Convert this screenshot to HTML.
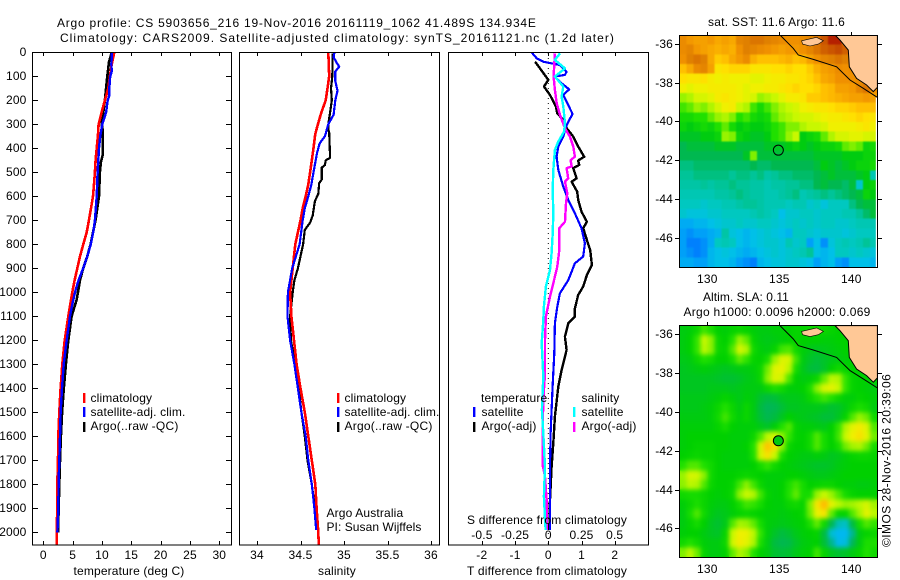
<!DOCTYPE html>
<html lang="en">
<head>
<meta charset="utf-8">
<title>Argo profile chart</title>
<style>
html,body{margin:0;padding:0;background:#fff;}
svg{display:block;}
text{font-family:"Liberation Sans",sans-serif;font-size:12px;fill:#000;letter-spacing:0.15px;}
.mid{text-anchor:middle;}
.end{text-anchor:end;}
.line{fill:none;stroke-linejoin:round;shape-rendering:crispEdges;}
.frame{fill:none;stroke:#000;stroke-width:1.2;shape-rendering:crispEdges;}
</style>
</head>
<body>
<svg id="chart" width="900" height="580" viewBox="0 0 900 580" xmlns="http://www.w3.org/2000/svg">
  <defs>
    <clipPath id="clip-sst"><rect x="679.3" y="35" width="198" height="232"/></clipPath>
    <clipPath id="clip-sla"><rect x="679.3" y="325.3" width="198" height="232"/></clipPath>
    <filter id="soft-sst" filterUnits="userSpaceOnUse" x="660" y="20" width="240" height="260" color-interpolation-filters="sRGB">
      <feGaussianBlur in="SourceGraphic" stdDeviation="0.8" result="b"/>
      <feMerge><feMergeNode in="SourceGraphic"/><feMergeNode in="b"/></feMerge>
    </filter>
    <filter id="soft-sla" filterUnits="userSpaceOnUse" x="660" y="310" width="240" height="260" color-interpolation-filters="sRGB">
      <feGaussianBlur in="SourceGraphic" stdDeviation="2.5" result="b"/>
      <feMerge><feMergeNode in="SourceGraphic"/><feMergeNode in="b"/></feMerge>
    </filter>
  </defs>
  <rect x="0" y="0" width="900" height="580" fill="#fff"/>

  <text x="57" y="27" textLength="479" lengthAdjust="spacing">Argo profile: CS 5903656_216 19-Nov-2016 20161119_1062 41.489S 134.934E</text>
  <text x="60" y="42" textLength="554" lengthAdjust="spacing">Climatology: CARS2009. Satellite-adjusted climatology: synTS_20161121.nc (1.2d later)</text>

  <g id="temp-panel"></g>
  <g id="sal-panel"></g>
  <g id="diff-panel"></g>

  <rect class="frame" x="32.5" y="52.5" width="199" height="492.5"/>
  <rect class="frame" x="239.5" y="52.5" width="200" height="492.5"/>
  <rect class="frame" x="448.5" y="52.5" width="200" height="492.5"/>

  <text class="mid" x="129" y="575">temperature (deg C)</text>
  <text class="mid" x="337" y="575">salinity</text>
  <text class="mid" x="547" y="575" textLength="160">T difference from climatology</text>
  <text class="mid" x="547" y="524" textLength="160">S difference from climatology</text>

  <g>
    <rect x="83" y="393" width="2.4" height="10" fill="#ff0000"/>
    <text x="90.5" y="402">climatology</text>
    <rect x="83" y="407" width="2.4" height="10" fill="#0000ff"/>
    <text x="90.5" y="416" textLength="95">satellite-adj. clim.</text>
    <rect x="83" y="422" width="2.4" height="10" fill="#000"/>
    <text x="90.5" y="430" textLength="88">Argo(..raw -QC)</text>
  </g>
  <g>
    <rect x="337" y="393" width="2.4" height="10" fill="#ff0000"/>
    <text x="344.5" y="402">climatology</text>
    <rect x="337" y="407" width="2.4" height="10" fill="#0000ff"/>
    <text x="344.5" y="416" textLength="95">satellite-adj. clim.</text>
    <rect x="337" y="422" width="2.4" height="10" fill="#000"/>
    <text x="344.5" y="430" textLength="88">Argo(..raw -QC)</text>
  </g>
  <text x="326.5" y="517">Argo Australia</text>
  <text x="326.5" y="531" textLength="95">PI: Susan Wijffels</text>

  <g>
    <text x="481" y="402">temperature</text>
    <text x="581.5" y="402">salinity</text>
    <rect x="473" y="407" width="2.4" height="10" fill="#0000ff"/>
    <text x="481.5" y="416">satellite</text>
    <rect x="473" y="422" width="2.4" height="10" fill="#000"/>
    <text x="481.5" y="430" textLength="55">Argo(-adj)</text>
    <rect x="573" y="407" width="2.4" height="10" fill="#00ffff"/>
    <text x="581.5" y="416">satellite</text>
    <rect x="573" y="422" width="2.4" height="10" fill="#ff00ff"/>
    <text x="581.5" y="430" textLength="55">Argo(-adj)</text>
  </g>

  <text class="mid" x="776.5" y="26" textLength="137">sat. SST: 11.6 Argo: 11.6</text>
  <text class="mid" x="746" y="301" textLength="86">Altim. SLA: 0.11</text>
  <text class="mid" x="777" y="316" textLength="187">Argo h1000: 0.0096 h2000: 0.069</text>
  <g id="sst-map"></g>
  <g id="sla-map"></g>
  <text class="mid" transform="translate(890.5,460.5) rotate(-90)" x="0" y="0" textLength="173">©IMOS 28-Nov-2016 20:39:06</text>
</svg>

<script>
// ---------- profile data ----------
const depthTicks = [0,100,200,300,400,500,600,700,800,900,1000,1100,1200,1300,1400,1500,1600,1700,1800,1900,2000];
const tempTicks = [0,5,10,15,20,25,30];
const salTicks = [34,34.5,35,35.5,36];
const tDiffTicks = [-2,-1,0,1,2];
const sDiffTicks = [-0.5,-0.25,0,0.25,0.5];
const sDiffTickLabels = ['-0.5','-0.25','0','0.25','0.5'];

const tempArgoDepth = [5,40,100,200,300,320,430,460,500,600,700,800,850,900,950,1030,1100,1200,1300,1400,1500,1600,1700,1800,2000];
const tempArgoValues = [11.6,11.19,10.9,10.5,9.94,10.1,10.1,9.8,9.65,9.5,8.9,8.07,7.5,6.8,6.25,5.7,4.83,4.26,3.86,3.5,3.2,3.0,2.84,2.73,2.5];
const tempClimDepth = [0,50,100,150,200,250,300,350,400,450,500,550,600,650,700,750,800,850,900,950,1000,1050,1100,1200,1300,1400,1500,1600,1700,1800,1900,2000,2054];
const tempClimValues = [12.1,11.65,11.36,11.08,10.5,9.94,9.43,9.3,9.1,8.92,8.8,8.64,8.47,8.13,7.78,7.39,6.82,6.25,5.8,5.34,4.94,4.6,4.26,3.64,3.24,2.95,2.73,2.56,2.5,2.39,2.39,2.27,2.27];
const tempSatDepth = [0,50,80,100,150,180,200,250,300,350,400,500,600,700,750,800,850,900,950,1000,1050,1100,1200,1300,1400,1500,1600,1700,1800,1900,2000];
const tempSatValues = [11.7,11.6,11.65,11.4,11.25,11.25,10.97,10.7,10.06,9.7,9.5,9.26,9.1,8.8,8.5,8.1,7.5,6.8,6.0,5.4,4.94,4.55,3.98,3.47,3.18,2.95,2.84,2.73,2.6,2.56,2.4];

const salArgoDepth = [5,100,150,200,250,300,320,335,440,450,470,480,530,545,590,620,680,710,740,800,850,900,950,1000,1050,1100,1200,1300,1400,1500,1600,1700,1800,1900,1990];
const salArgoValues = [34.87,34.865,34.85,34.86,34.84,34.82,34.82,34.83,34.84,34.79,34.78,34.745,34.745,34.715,34.705,34.665,34.64,34.61,34.55,34.53,34.50,34.47,34.43,34.41,34.395,34.38,34.39,34.44,34.48,34.51,34.55,34.58,34.63,34.665,34.68];
const salClimDepth = [0,100,150,200,220,250,300,340,400,500,550,600,650,700,750,800,900,1000,1100,1200,1300,1400,1500,1600,1700,1800,1900,2000,2054];
const salClimValues = [34.82,34.83,34.81,34.79,34.77,34.74,34.70,34.67,34.65,34.61,34.59,34.56,34.525,34.50,34.47,34.44,34.41,34.38,34.395,34.425,34.455,34.50,34.55,34.59,34.63,34.67,34.685,34.705,34.71];
const salSatDepth = [0,20,40,60,80,120,160,200,260,300,350,380,420,500,550,600,650,700,800,900,1000,1100,1200,1300,1400,1500,1600,1700,1800,1900,1990];
const salSatValues = [34.89,34.88,34.91,34.945,34.90,34.90,34.925,34.90,34.88,34.82,34.78,34.72,34.69,34.65,34.625,34.59,34.55,34.525,34.49,34.405,34.355,34.35,34.38,34.43,34.47,34.51,34.56,34.59,34.63,34.66,34.68];

const dTArgoDepth = [39,67,115,143,178,226,254,282,312,351,393,435,451,469,483,525,539,581,615,664,706,733,782,824,886,928,976,1011,1067,1101,1129,1185,1240,1324,1393,1518,1629,1726,1865,1990];
const dTArgoValues = [-0.40,-0.25,0,-0.13,0.05,0.23,0.27,0.45,0.53,0.75,0.90,1.08,0.90,0.93,0.75,0.85,0.70,0.87,0.90,1.0,1.16,1.05,1.16,1.26,1.31,1.16,1.05,0.90,0.80,0.80,0.60,0.50,0.55,0.40,0.30,0.20,0.15,0.10,0.05,0.03];
const dTSatDepth = [1,25,39,53,81,94,101,129,154,178,212,257,289,312,351,393,435,490,560,615,671,733,796,851,879,949,1004,1060,1129,1254,1393,1587,1726,1990];
const dTSatValues = [-0.50,-0.35,-0.15,0.35,0.55,0.50,0.2,0.40,0.63,0.45,0.57,0.73,0.60,0.53,0.45,0.30,0.25,0.30,0.45,0.60,0.80,1.0,1.10,1.05,0.80,0.60,0.35,0.27,0.20,0.18,0.13,0.07,0.05,0.05];
const dSArgoDepth = [4,101,157,212,261,317,351,393,435,449,476,483,525,539,587,629,706,733,824,893,962,1018,1074,1101,1199,1338,1449,1587,1719,1768,1865,1990];
const dSArgoValues = [0.05,0.04,0.05,0.063,0.088,0.126,0.163,0.188,0.20,0.168,0.176,0.138,0.15,0.126,0.143,0.133,0.126,0.083,0.083,0.068,0.038,0.013,-0.008,-0.018,-0.025,-0.025,-0.038,-0.043,-0.043,-0.025,-0.013,-0.013];
const dSSatDepth = [4,32,67,101,143,185,226,296,331,372,407,490,574,671,754,837,907,976,1060,1115,1213,1351,1490,1587,1726,1851,1990];
const dSSatValues = [0.088,0.05,0.126,0.05,0.113,0.10,0.113,0.126,0.118,0.075,0.05,0.038,0.033,0.038,0.033,0.025,0.013,-0.018,-0.033,-0.038,-0.05,-0.038,-0.048,-0.038,-0.025,-0.033,-0.02];

// ---------- map data (half-degree cells, north to south, west to east) ----------
const mapLonTicks = [130,135,140];
const mapLatTicks = [-36,-38,-40,-42,-44,-46];
const sstGrid = [
[14.3,14.1,14.0,14.0,14.1,13.9,14.0,13.9,14.4,14.5,14.6,14.6,14.5,14.4,14.3,14.2,14.2,14.3,14.4,14.6,14.9,15.3,15.3,14,14,14,14,14],
[14.3,14.4,14.1,14.0,13.9,13.8,13.9,13.8,14.2,14.5,14.4,14.3,14.2,14.1,14.0,14.1,14.1,14.2,14.4,14.6,14.8,14.9,15.0,14.8,14,14,14,14],
[14.2,14.5,14.6,14.5,13.9,13.5,13.6,13.9,14.1,14.3,13.8,13.6,13.6,13.6,13.7,13.8,13.6,13.7,14.0,14.2,14.4,14.5,14.6,14.5,14.2,14,14,14],
[13.6,13.9,14.3,14.4,14.0,13.2,13.3,13.4,13.4,13.4,13.2,13.2,13.2,13.3,13.3,13.4,13.3,13.3,13.5,13.8,14.0,14.1,14.3,14.2,14.3,14.2,14,14],
[13.3,13.2,13.2,13.3,13.1,13.0,13.1,13.0,13.0,13.0,12.9,12.9,13.0,13.1,13.1,13.2,13.2,13.3,13.4,13.6,13.9,14.0,14.2,14.2,14.2,14.3,14.3,14.1],
[13.0,12.9,13.0,13.0,13.1,13.1,13.1,13.1,13.0,12.9,13.0,13.0,13.1,13.1,13.2,13.3,13.4,13.3,13.3,13.4,13.6,13.7,14.0,14.0,14.1,14.4,14.6,14.2],
[12.5,12.6,12.8,12.8,12.9,13.1,13.2,13.1,13.0,12.9,12.8,12.5,12.6,12.7,12.9,13.1,13.1,13.2,13.5,13.5,13.6,13.7,13.8,13.9,14.0,14.0,14.1,14.0],
[12.2,12.3,12.5,12.4,12.6,12.8,13.0,13.1,12.7,12.6,12.2,12.0,12.2,12.4,12.6,12.7,12.8,13.0,13.1,13.2,13.2,13.3,13.4,13.4,13.5,13.6,13.6,13.6],
[12.0,12.0,12.1,12.1,12.3,12.5,12.6,12.4,12.1,12.2,12.0,11.9,12.0,12.3,12.5,12.6,12.7,12.8,12.8,12.9,13.0,13.1,13.1,13.2,13.3,13.4,13.3,13.2],
[11.9,11.8,11.9,12.0,11.9,12.1,12.3,12.0,11.8,11.9,11.8,11.8,11.9,12.1,12.2,12.4,12.4,12.6,12.7,12.7,12.8,13.0,13.0,13.0,13.0,13.1,13.2,13.0],
[11.7,11.7,11.7,11.8,11.8,11.9,12.5,12.4,11.9,11.8,11.7,11.7,11.8,12.1,12.2,12.5,12.7,11.8,11.9,12.0,12.3,12.6,12.8,12.8,12.9,12.9,12.8,12.8],
[11.5,11.6,11.6,11.6,11.6,11.7,11.7,11.7,11.6,11.6,11.6,11.6,11.7,11.7,11.7,11.8,11.9,11.8,11.7,11.8,11.9,11.9,12.0,12.3,12.4,12.3,11.9,12.0],
[11.5,11.5,11.5,11.5,11.5,11.5,11.5,11.5,11.5,11.7,12.4,11.6,11.6,11.6,11.6,11.6,11.6,11.6,11.6,11.7,11.7,11.7,11.7,11.8,11.8,11.8,11.9,11.9],
[11.3,11.3,11.4,11.4,11.4,11.4,11.4,11.4,11.4,11.4,11.5,11.4,11.4,11.5,11.5,11.5,11.5,11.5,11.5,11.6,11.8,11.7,11.6,11.7,11.8,11.9,11.9,12.0],
[11.2,11.2,11.3,11.3,11.3,11.3,11.3,11.2,11.3,11.3,11.2,11.3,11.1,11.2,11.3,11.3,11.4,11.4,11.4,11.5,11.6,11.7,11.6,11.6,11.6,11.7,11.8,11.0],
[11.1,11.1,11.1,11.2,11.1,11.2,11.2,11.3,11.2,11.2,11.1,11.1,11.0,11.1,11.1,11.2,11.2,11.3,11.3,11.5,11.6,11.5,11.5,11.4,11.6,10.8,11.8,11.9],
[11.0,11.0,11.0,11.0,11.0,11.1,11.1,11.2,11.3,11.2,11.1,11.1,11.0,11.0,11.1,11.2,11.3,11.0,11.1,11.2,11.3,11.2,11.3,11.4,11.5,11.6,11.9,11.8],
[10.9,10.9,10.9,10.8,10.9,10.9,11.0,11.0,11.1,11.2,11.2,11.1,11.0,11.0,11.0,10.9,11.0,11.0,10.8,10.9,10.7,10.9,10.9,10.9,11.3,11.5,11.6,11.6],
[10.8,10.7,10.7,10.7,10.8,10.8,10.9,10.9,10.9,10.9,11.0,11.1,11.0,10.9,10.6,10.8,10.8,10.9,10.9,10.8,10.9,10.9,10.9,11.0,11.0,11.2,11.4,11.6],
[10.4,10.4,10.5,10.5,10.6,10.7,10.8,10.8,10.9,10.8,10.8,10.9,10.9,10.8,10.7,10.8,10.9,10.8,10.9,10.8,10.9,10.9,10.8,10.8,10.9,11.0,11.0,11.0],
[10.3,10.2,10.3,10.3,10.4,10.5,11.1,10.7,10.6,10.5,10.6,10.7,10.8,10.7,10.6,10.5,10.9,10.9,10.8,10.7,10.8,10.8,10.8,10.7,10.8,10.9,10.9,10.9],
[10.3,10.1,10.1,10.2,10.4,10.9,11.0,10.9,10.6,10.5,10.6,10.7,10.8,10.8,10.7,11.0,10.8,10.9,10.3,10.6,10.2,10.7,10.9,11.0,10.9,11.0,11.2,11.0],
[10.3,10.2,10.1,10.2,10.5,10.6,10.7,10.6,10.5,10.4,10.5,10.6,10.7,10.8,10.7,10.8,10.9,11.0,11.2,10.6,10.5,10.6,10.9,10.9,10.8,10.9,10.8,10.7],
[10.4,10.4,10.3,10.3,10.5,10.6,10.6,10.5,10.3,10.2,10.1,10.5,10.6,10.7,10.7,10.8,10.8,10.7,10.6,10.3,10.5,10.6,10.3,10.2,10.6,10.6,10.6,10.5]
];
const slaGridCm = [
[9,10,13,19,16,11,10,12,13,12,10,9,9,10,10,11,12,12,13,14,13,12,11,11,11,11,11,11],
[9,11,18,29,24,13,11,17,25,21,12,9,8,9,10,11,12,11,11,11,10,10,11,11,11,11,11,11],
[9,11,18,28,24,13,12,20,31,27,14,10,9,12,19,20,14,10,8,7,8,9,10,11,11,11,11,11],
[8,9,13,17,15,11,11,15,21,18,12,11,15,25,32,31,19,9,6,4,6,8,9,10,11,11,11,11],
[7,8,9,10,9,8,7,8,9,9,10,13,22,32,34,28,15,8,4,3,6,11,14,12,11,11,11,11],
[7,7,7,7,7,6,5,5,6,8,9,13,24,32,30,20,11,9,10,13,21,28,27,18,12,11,11,11],
[7,7,7,7,8,8,8,7,8,9,9,9,13,16,14,10,10,11,16,24,31,33,29,18,12,11,10,9],
[8,8,8,8,9,10,12,10,8,10,9,5,3,4,7,8,8,9,13,17,19,17,13,10,10,12,11,10],
[8,8,8,9,10,13,17,13,9,13,9,3,0,1,4,7,7,8,8,8,7,5,6,9,13,16,14,9],
[9,9,9,9,10,14,19,14,10,13,9,4,1,3,7,11,9,8,7,6,4,4,7,12,20,25,22,14],
[10,10,10,10,10,12,15,11,10,10,10,8,6,10,17,20,12,10,10,9,8,11,18,27,33,36,32,20],
[10,11,11,11,11,11,11,10,10,10,13,20,28,30,24,18,12,11,14,20,15,11,19,29,35,38,33,22],
[10,11,12,12,12,11,11,10,10,11,17,31,43,38,24,13,11,11,14,20,15,11,15,22,26,27,22,15],
[11,12,13,12,12,11,10,10,10,10,16,31,38,29,16,11,10,9,9,10,9,7,8,10,12,13,13,12],
[17,20,20,17,14,11,10,10,10,10,11,15,18,14,11,10,9,8,7,6,6,7,9,10,11,11,11,11],
[25,31,30,24,14,11,11,11,12,13,12,11,10,10,10,11,11,10,9,8,8,9,10,11,11,11,11,11],
[24,28,27,20,13,11,11,12,19,24,19,13,10,10,11,16,19,15,11,12,13,13,11,10,10,9,9,10],
[14,15,15,13,11,10,11,13,24,29,27,19,12,10,11,17,21,15,15,25,29,25,20,15,12,11,11,11],
[10,13,16,13,10,9,9,11,15,19,18,15,11,10,10,13,14,12,23,37,44,33,28,25,26,28,31,26],
[9,15,20,14,9,7,8,10,12,13,12,11,10,10,9,10,11,12,22,34,37,21,12,12,20,26,33,28],
[9,12,15,11,7,5,8,20,26,25,21,15,10,9,8,9,10,11,16,21,14,1,-10,-12,3,15,20,18],
[10,11,11,9,7,6,12,29,35,34,28,18,10,6,3,5,8,10,11,12,3,-14,-26,-26,-6,9,12,13],
[14,17,14,10,9,9,13,30,36,33,27,16,9,3,1,2,6,9,10,11,4,-6,-18,-16,0,9,16,16],
[23,28,22,12,9,9,11,21,27,24,17,11,9,5,4,5,8,10,11,19,12,7,5,6,9,12,17,14]
];
const sstScaleValues = [10.0,10.3,10.6,10.9,11.2,11.5,11.8,12.1,12.4,12.7,13.0,13.3,13.6,13.9,14.2,14.5,14.8,15.1,15.4];
const sstScaleColors = ['#0070ff','#00a0f8','#00c0e8','#00c8c0','#00c498','#00b850','#00cc10','#20e000','#80f000','#c8f800','#f0f000','#ffe000','#ffc000','#f8a800','#f09000','#e08000','#d06000','#c04000','#b01000'];
const slaScaleValues = [-19,-11,-3,3,11,17,23,29,35,41,47];
const slaScaleColors = ['#00b8f0','#00c0c0','#00b070','#00bc40','#00d000','#20e000','#80f000','#c8f800','#f0f000','#ffd000','#ffa800'];
const shelfLon = [135.05,135.97,136.32,137.36,138.98,139.91,140.83,141.81];
const shelfLat = [-35.55,-36.24,-36.58,-36.81,-37.19,-37.87,-38.3,-38.77];
const landLon = [138.87,139.21,139.79,139.86,140.37,141.06,141.53,141.81,141.81];
const landLat = [-35.55,-35.81,-36.33,-37.19,-37.79,-38.13,-38.47,-38.25,-35.55];
const islandLon = [136.55,137.59,138.06,137.71,137.13,136.62];
const islandLat = [-35.85,-35.67,-35.85,-36.02,-36.12,-36.02];
const floatLon = 134.934;
const floatLat = -41.489;

// ---------- axis functions ----------
const NS = 'http://www.w3.org/2000/svg';
const yDepth = d => 52.3 + 0.24 * d;
const xTemp = t => 43.3 + 5.867 * t;
const xSal = s => 257 + 87 * (s - 34);
const xDT = t => 548.3 + 33.25 * t;
const xDS = s => 548.3 + 132.8 * s;
const xLon = lon => 707.3 + 14.4 * (lon - 130);
const ySst = lat => 43.7 + 19.4 * (-36 - lat);
const ySla = lat => 334.3 + 19.4 * (-36 - lat);

function node(parent, tag) {
  const el = document.createElementNS(NS, tag);
  parent.appendChild(el);
  return el;
}
function pointsOf(xs, ys, fx, fy) {
  return xs.map((v, i) => fx(v).toFixed(1) + ',' + fy(ys[i]).toFixed(1)).join(' ');
}
function profile(parent, name, depth, values, fx, color, width) {
  const el = node(parent, 'polyline');
  
  
  el.setAttribute('class', 'line');
  el.setAttribute('points', values.map((v, i) => fx(v).toFixed(1) + ',' + yDepth(depth[i]).toFixed(1)).join(' '));
  el.setAttribute('stroke', color);
  el.setAttribute('stroke-width', width);
}
function tick(parent, name, x1, y1, x2, y2) {
  const el = node(parent, 'line');
  
  
  el.setAttribute('x1', x1);
  el.setAttribute('y1', y1);
  el.setAttribute('x2', x2);
  el.setAttribute('y2', y2);
  el.setAttribute('stroke', '#000');
  el.setAttribute('stroke-width', '1');
  el.setAttribute('shape-rendering', 'crispEdges');
}
function label(parent, name, x, y, str, cls) {
  const el = node(parent, 'text');
  
  
  el.setAttribute('x', x);
  el.setAttribute('y', y);
  el.setAttribute('class', cls);
  el.textContent = str;
}
function hexToRgb(h) {
  return [parseInt(h.slice(1,3),16), parseInt(h.slice(3,5),16), parseInt(h.slice(5,7),16)];
}
function colorFor(v, scale, colors) {
  if (v <= scale[0]) return colors[0];
  for (let i = 1; i < scale.length; i++) {
    if (v <= scale[i]) {
      const f = (v - scale[i-1]) / (scale[i] - scale[i-1]);
      const a = hexToRgb(colors[i-1]);
      const b = hexToRgb(colors[i]);
      return 'rgb(' + a.map((c, k) => Math.round(c + (b[k] - c) * f)).join(',') + ')';
    }
  }
  return colors[colors.length - 1];
}

// ---------- temperature panel ----------
const tempPanel = document.getElementById('temp-panel');
depthTicks.forEach(d => {
  tick(tempPanel, 'depth-tick-left', 32.5, Math.round(yDepth(d)) + 0.5, 38, Math.round(yDepth(d)) + 0.5);
  tick(tempPanel, 'depth-tick-right', 226, Math.round(yDepth(d)) + 0.5, 231.5, Math.round(yDepth(d)) + 0.5);
  label(tempPanel, 'depth-tick-label', 26.5, Math.round(yDepth(d)) + 4, String(d), 'end');
});
tempTicks.forEach(t => {
  const x = Math.round(xTemp(t)) + 0.5;
  tick(tempPanel, 'temperature-tick-top', x, 52.5, x, 56);
  tick(tempPanel, 'temperature-tick-bottom', x, 541, x, 545);
  label(tempPanel, 'temperature-tick-label', xTemp(t), 559, String(t), 'mid');
});
profile(tempPanel, 'temperature-argo-line', tempArgoDepth, tempArgoValues, xTemp, '#000', 2.6);
profile(tempPanel, 'temperature-climatology-line', tempClimDepth, tempClimValues, xTemp, '#ff0000', 2.6);
profile(tempPanel, 'temperature-satellite-line', tempSatDepth, tempSatValues, xTemp, '#0000ff', 2.4);

// ---------- salinity panel ----------
const salPanel = document.getElementById('sal-panel');
salTicks.forEach(s => {
  const x = Math.round(xSal(s)) + 0.5;
  tick(salPanel, 'salinity-tick-top', x, 52.5, x, 56);
  tick(salPanel, 'salinity-tick-bottom', x, 541, x, 545);
  label(salPanel, 'salinity-tick-label', xSal(s), 559, String(s), 'mid');
});
profile(salPanel, 'salinity-argo-line', salArgoDepth, salArgoValues, xSal, '#000', 2.2);
profile(salPanel, 'salinity-climatology-line', salClimDepth, salClimValues, xSal, '#ff0000', 2.6);
profile(salPanel, 'salinity-satellite-line', salSatDepth, salSatValues, xSal, '#0000ff', 2.2);

// ---------- difference panel ----------
const diffPanel = document.getElementById('diff-panel');
tDiffTicks.forEach(t => {
  const x = Math.round(xDT(t)) + 0.5;
  tick(diffPanel, 't-difference-tick-top', x, 52.5, x, 56);
  label(diffPanel, 't-difference-tick-label', xDT(t), 559, String(t), 'mid');
});
sDiffTicks.forEach((s, i) => {
  const x = Math.round(xDS(s)) + 0.5;
  tick(diffPanel, 's-difference-tick-bottom', x, 541, x, 545);
  label(diffPanel, 's-difference-tick-label', xDS(s), 539, sDiffTickLabels[i], 'mid');
});
const zero = node(diffPanel, 'line');


zero.setAttribute('x1', xDT(0));
zero.setAttribute('x2', xDT(0));
zero.setAttribute('y1', 53);
zero.setAttribute('y2', 545);
zero.setAttribute('stroke', '#000');
zero.setAttribute('stroke-width', '1');
zero.setAttribute('stroke-dasharray', '1 4');
profile(diffPanel, 't-difference-argo-line', dTArgoDepth, dTArgoValues, xDT, '#000', 2.4);
profile(diffPanel, 't-difference-satellite-line', dTSatDepth, dTSatValues, xDT, '#0000ff', 2.2);
profile(diffPanel, 's-difference-argo-line', dSArgoDepth, dSArgoValues, xDS, '#ff00ff', 2.4);
profile(diffPanel, 's-difference-satellite-line', dSSatDepth, dSSatValues, xDS, '#00ffff', 2.4);

// ---------- maps ----------
function drawMap(rootId, grid, scale, colors, yMap, top, clipId, softId, prefix, cellName, floatFill) {
  const root = document.getElementById(rootId);
  const body = node(root, 'g');
  body.setAttribute('clip-path', 'url(#' + clipId + ')');
  
  
  const cells = node(body, 'g');
  cells.setAttribute('filter', 'url(#' + softId + ')');
  
  
  const cols = grid[0].length;
  const w = 198 / cols;
  const h = 232 / grid.length;
  grid.forEach((row, r) => {
    row.forEach((v, c) => {
      const cell = node(cells, 'rect');
      
      
      cell.setAttribute('x', (679.3 + c * w).toFixed(2));
      cell.setAttribute('y', (top + r * h).toFixed(2));
      cell.setAttribute('width', (w + 0.4).toFixed(2));
      cell.setAttribute('height', (h + 0.4).toFixed(2));
      cell.setAttribute('fill', colorFor(v, scale, colors));
      cell.setAttribute('shape-rendering', 'crispEdges');
    });
  });
  const land = node(body, 'polygon');
  
  
  land.setAttribute('points', pointsOf(landLon, landLat, xLon, yMap));
  land.setAttribute('fill', '#ffc896');
  land.setAttribute('stroke', '#000');
  land.setAttribute('stroke-width', '1');
  const island = node(body, 'polygon');
  
  
  island.setAttribute('points', pointsOf(islandLon, islandLat, xLon, yMap));
  island.setAttribute('fill', '#ffc896');
  island.setAttribute('stroke', '#000');
  island.setAttribute('stroke-width', '0.6');
  const shelf = node(body, 'polyline');
  
  
  shelf.setAttribute('points', pointsOf(shelfLon, shelfLat, xLon, yMap));
  shelf.setAttribute('fill', 'none');
  shelf.setAttribute('stroke', '#000');
  shelf.setAttribute('stroke-width', '1');
  const marker = node(body, 'circle');
  
  
  marker.setAttribute('cx', xLon(floatLon));
  marker.setAttribute('cy', yMap(floatLat));
  marker.setAttribute('r', 5);
  marker.setAttribute('fill', floatFill);
  marker.setAttribute('stroke', '#000');
  marker.setAttribute('stroke-width', '1');
  if (prefix === 'sst') {
    const strip = node(body, 'rect');
    
    
    strip.setAttribute('x', 875.8);
    strip.setAttribute('y', 97.5);
    strip.setAttribute('width', 1.5);
    strip.setAttribute('height', 170);
    strip.setAttribute('fill', '#fff');
  }
  const frame = node(root, 'rect');
  
  
  frame.setAttribute('class', 'frame');
  frame.setAttribute('x', 679.5);
  frame.setAttribute('y', Math.round(top) + 0.5);
  frame.setAttribute('width', 198);
  frame.setAttribute('height', 232);
  mapLonTicks.forEach(lon => {
    const x = Math.round(xLon(lon)) + 0.5;
    tick(root, prefix + '-lon-tick', x, Math.round(top) - 3, x, Math.round(top));
    label(root, prefix + '-lon-label', xLon(lon), Math.round(top) + 248, String(lon), 'mid');
  });
  mapLatTicks.forEach(lat => {
    const y = Math.round(yMap(lat)) + 0.5;
    tick(root, prefix + '-lat-tick-left', 675, y, 679.5, y);
    tick(root, prefix + '-lat-tick-right', 877.5, y, 882, y);
    label(root, prefix + '-lat-label', 673, Math.round(yMap(lat)) + 4, String(lat), 'end');
  });
}
drawMap('sst-map', sstGrid, sstScaleValues, sstScaleColors, ySst, 35, 'clip-sst', 'soft-sst', 'sst', 'sst-cell', 'none');
drawMap('sla-map', slaGridCm, slaScaleValues, slaScaleColors, ySla, 325.3, 'clip-sla', 'soft-sla', 'sla', 'sla-cell', '#00c810');
</script>
</body>
</html>
